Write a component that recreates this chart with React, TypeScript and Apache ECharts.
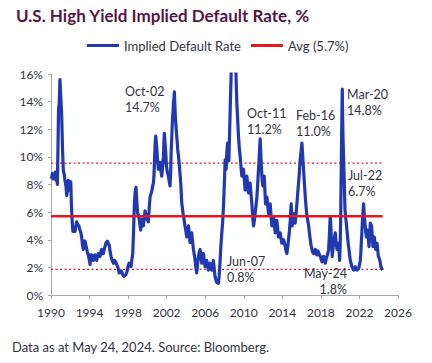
import React, { useEffect, useRef } from "react";
import * as echarts from "echarts";

const TITLE = "U.S. High Yield Implied Default Rate, %";
const FOOTER = "Data as at May 24, 2024. Source: Bloomberg.";
const SERIES_NAME = "Implied Default Rate";
const AVG_NAME = "Avg (5.7%)";
const AVG = 5.7;
const UPPER_BAND = 9.55;
const LOWER_BAND = 1.85;
const X_MIN = 1990;
const X_MAX = 2026;
const X_STEP = 4;
const Y_MIN = 0;
const Y_MAX = 16;
const Y_STEP = 2;

const years: number[] = [
  1990.0, 1990.07, 1990.15, 1990.22, 1990.3, 1990.38, 1990.45, 1990.52, 1990.6, 1990.66,
  1990.72, 1990.78, 1990.85, 1990.93, 1991.0, 1991.1, 1991.2, 1991.28, 1991.36, 1991.45,
  1991.55, 1991.63, 1991.72, 1991.8, 1991.9, 1991.97, 1992.05, 1992.12, 1992.2, 1992.27,
  1992.38, 1992.49, 1992.58, 1992.66, 1992.78, 1992.9, 1993.0, 1993.1, 1993.18, 1993.27,
  1993.35, 1993.45, 1993.53, 1993.65, 1993.77, 1993.87, 1993.96, 1994.05, 1994.14, 1994.22,
  1994.3, 1994.39, 1994.48, 1994.57, 1994.65, 1994.74, 1994.83, 1994.91, 1995.0, 1995.09,
  1995.18, 1995.26, 1995.35, 1995.43, 1995.52, 1995.6, 1995.72, 1995.85, 1995.95, 1996.05,
  1996.14, 1996.23, 1996.35, 1996.47, 1996.6, 1996.71, 1996.82, 1996.92, 1997.0, 1997.09,
  1997.2, 1997.33, 1997.45, 1997.58, 1997.67, 1997.75, 1997.84, 1997.92, 1998.0, 1998.1,
  1998.2, 1998.3, 1998.4, 1998.48, 1998.56, 1998.65, 1998.75, 1998.82, 1998.9, 1998.99,
  1999.07, 1999.15, 1999.3, 1999.41, 1999.5, 1999.59, 1999.68, 1999.76, 1999.85, 1999.93,
  2000.02, 2000.1, 2000.2, 2000.28, 2000.36, 2000.45, 2000.55, 2000.62, 2000.68, 2000.73,
  2000.8, 2000.87, 2000.93, 2001.0, 2001.07, 2001.14, 2001.22, 2001.32, 2001.4, 2001.49,
  2001.57, 2001.66, 2001.72, 2001.76, 2001.83, 2001.9, 2001.96, 2002.04, 2002.1, 2002.18,
  2002.27, 2002.35, 2002.42, 2002.46, 2002.54, 2002.6, 2002.66, 2002.7, 2002.76, 2002.8,
  2002.85, 2002.9, 2002.95, 2003.0, 2003.08, 2003.15, 2003.22, 2003.29, 2003.38, 2003.46,
  2003.52, 2003.56, 2003.65, 2003.74, 2003.82, 2003.9, 2004.0, 2004.08, 2004.17, 2004.26,
  2004.34, 2004.43, 2004.52, 2004.6, 2004.7, 2004.78, 2004.87, 2004.95, 2005.03, 2005.12,
  2005.2, 2005.3, 2005.38, 2005.47, 2005.55, 2005.64, 2005.72, 2005.81, 2005.9, 2005.99,
  2006.08, 2006.16, 2006.25, 2006.33, 2006.42, 2006.5, 2006.6, 2006.68, 2006.77, 2006.85,
  2006.93, 2007.02, 2007.1, 2007.2, 2007.3, 2007.37, 2007.45, 2007.54, 2007.62, 2007.72,
  2007.8, 2007.9, 2007.98, 2008.07, 2008.17, 2008.24, 2008.31, 2008.38, 2008.45, 2008.52,
  2008.59, 2008.67, 2008.76, 2008.85, 2008.95, 2009.05, 2009.12, 2009.18, 2009.23, 2009.28,
  2009.36, 2009.45, 2009.54, 2009.63, 2009.72, 2009.8, 2009.88, 2009.97, 2010.06, 2010.15,
  2010.24, 2010.32, 2010.4, 2010.49, 2010.58, 2010.66, 2010.75, 2010.84, 2010.92, 2011.01,
  2011.1, 2011.18, 2011.27, 2011.36, 2011.45, 2011.53, 2011.62, 2011.7, 2011.77, 2011.84,
  2011.91, 2011.98, 2012.05, 2012.12, 2012.19, 2012.26, 2012.33, 2012.4, 2012.48, 2012.57,
  2012.65, 2012.74, 2012.82, 2012.91, 2013.0, 2013.09, 2013.17, 2013.26, 2013.35, 2013.43,
  2013.52, 2013.6, 2013.69, 2013.78, 2013.86, 2013.95, 2014.04, 2014.12, 2014.21, 2014.3,
  2014.38, 2014.47, 2014.55, 2014.64, 2014.73, 2014.82, 2014.88, 2014.92, 2014.97, 2015.02,
  2015.09, 2015.16, 2015.25, 2015.33, 2015.42, 2015.51, 2015.6, 2015.68, 2015.77, 2015.85,
  2015.94, 2016.03, 2016.1, 2016.2, 2016.28, 2016.38, 2016.46, 2016.55, 2016.64, 2016.73,
  2016.81, 2016.9, 2016.98, 2017.07, 2017.15, 2017.24, 2017.33, 2017.42, 2017.5, 2017.59,
  2017.68, 2017.76, 2017.85, 2017.94, 2018.02, 2018.11, 2018.2, 2018.28, 2018.37, 2018.46,
  2018.54, 2018.63, 2018.72, 2018.8, 2018.88, 2018.97, 2019.03, 2019.08, 2019.13, 2019.18,
  2019.25, 2019.32, 2019.4, 2019.49, 2019.58, 2019.67, 2019.75, 2019.84, 2019.9, 2019.94,
  2020.0, 2020.05, 2020.1, 2020.15, 2020.19, 2020.22, 2020.25, 2020.29, 2020.34, 2020.39,
  2020.45, 2020.5, 2020.57, 2020.64, 2020.7, 2020.77, 2020.84, 2020.91, 2020.98, 2021.05,
  2021.13, 2021.22, 2021.31, 2021.4, 2021.48, 2021.57, 2021.65, 2021.74, 2021.83, 2021.92,
  2022.0, 2022.09, 2022.14, 2022.19, 2022.25, 2022.3, 2022.37, 2022.43, 2022.5, 2022.57,
  2022.64, 2022.71, 2022.78, 2022.85, 2022.92, 2022.99, 2023.06, 2023.13, 2023.2, 2023.26,
  2023.33, 2023.4, 2023.47, 2023.54, 2023.61, 2023.68, 2023.75, 2023.82, 2023.89, 2023.96,
  2024.03, 2024.1, 2024.17, 2024.23, 2024.32, 2024.4,
];

const rates: number[] = [
  8.6, 8.5, 8.8, 8.4, 8.7, 8.5, 8.9, 8.3, 8.6, 8.0,
  10.5, 13.4, 13.9, 15.6, 14.5, 13.2, 10.5, 9.0, 8.8, 8.3,
  7.9, 7.2, 7.6, 8.3, 7.6, 7.8, 8.2, 6.5, 5.3, 4.6,
  4.7, 4.6, 5.0, 5.3, 5.1, 5.0, 4.7, 4.5, 4.2, 3.6,
  3.3, 3.9, 3.9, 3.5, 3.1, 2.9, 2.6, 2.2, 2.9, 2.9,
  2.6, 2.5, 2.8, 2.9, 2.7, 2.5, 2.8, 3.0, 2.8, 2.8,
  3.1, 3.3, 3.0, 3.0, 3.3, 3.5, 3.8, 3.9, 3.7, 3.6,
  3.1, 2.8, 2.5, 2.3, 2.5, 2.4, 2.2, 2.05, 1.8, 1.6,
  1.75, 1.7, 1.45, 1.35, 1.4, 1.45, 1.6, 1.8, 2.1, 2.3,
  2.1, 2.05, 2.6, 3.0, 4.5, 6.6, 7.6, 7.8, 6.8, 5.9,
  5.8, 5.5, 4.7, 5.5, 5.2, 5.0, 5.6, 6.1, 5.8, 5.6,
  5.4, 5.3, 6.4, 7.1, 7.3, 7.5, 7.9, 8.1, 8.6, 9.6,
  10.9, 11.5, 11.0, 10.4, 9.6, 9.1, 9.3, 9.6, 9.0, 8.6,
  9.2, 10.0, 11.2, 11.7, 11.0, 10.4, 9.5, 9.0, 9.0, 8.6,
  8.2, 7.9, 9.0, 10.3, 11.6, 12.7, 13.3, 13.9, 14.3, 14.7,
  13.8, 12.9, 12.4, 11.9, 11.2, 10.5, 10.1, 9.6, 8.8, 8.1,
  7.3, 6.7, 6.2, 5.7, 5.4, 5.0, 4.6, 4.2, 4.6, 5.0,
  4.4, 3.8, 4.3, 4.5, 3.8, 3.3, 2.9, 2.5, 2.0, 1.6,
  2.2, 2.8, 3.1, 3.3, 2.8, 2.3, 2.7, 3.0, 2.5, 2.05,
  2.3, 2.5, 2.1, 1.8, 2.1, 2.3, 2.0, 1.8, 2.1, 2.5,
  1.9, 1.35, 1.1, 0.9, 1.0, 0.85, 1.4, 2.4, 3.5, 4.5,
  5.2, 6.5, 8.0, 9.8, 9.1, 10.2, 11.0, 10.4, 9.7, 11.5,
  13.4, 15.5, 18.5, 22.0, 23.0, 21.0, 18.0, 16.3, 15.0, 13.9,
  12.8, 11.5, 10.6, 10.0, 9.2, 8.6, 9.0, 9.1, 8.3, 7.6,
  8.1, 8.6, 8.0, 7.4, 7.6, 8.1, 7.3, 6.6, 5.7, 5.0,
  5.4, 5.9, 6.5, 7.1, 8.1, 9.1, 10.3, 11.3, 10.2, 9.1,
  8.3, 7.9, 8.2, 8.6, 7.6, 6.6, 6.9, 7.1, 6.5, 5.9,
  6.2, 6.6, 5.8, 5.0, 5.3, 5.7, 5.1, 4.5, 4.9, 5.4,
  4.8, 4.2, 4.4, 4.5, 4.1, 3.75, 3.9, 4.0, 3.8, 3.5,
  3.2, 3.0, 3.4, 4.0, 4.6, 5.4, 6.2, 6.6, 5.8, 5.0,
  5.4, 5.9, 5.5, 5.2, 5.8, 6.6, 7.4, 8.1, 8.9, 9.8,
  10.4, 11.0, 10.2, 9.1, 8.2, 7.1, 6.4, 5.7, 5.4, 5.0,
  4.5, 4.0, 3.6, 3.3, 3.1, 3.0, 3.2, 3.3, 3.0, 2.9,
  3.2, 3.1, 2.9, 2.8, 2.6, 2.4, 2.6, 2.8, 2.5, 2.3,
  2.6, 2.8, 3.0, 3.3, 4.3, 5.7, 5.0, 4.2, 3.4, 2.8,
  3.3, 3.75, 4.1, 4.5, 3.8, 3.3, 3.5, 3.75, 3.0, 2.5,
  3.5, 5.4, 8.5, 11.5, 13.5, 14.9, 13.2, 11.5, 10.2, 9.1,
  7.5, 6.2, 5.6, 5.2, 4.7, 4.2, 3.7, 3.3, 2.9, 2.5,
  2.3, 2.05, 1.9, 1.8, 1.9, 2.05, 1.9, 1.8, 1.9, 1.9,
  2.2, 2.5, 3.0, 3.75, 4.5, 5.2, 6.0, 6.6, 5.8, 5.2,
  4.7, 4.2, 4.5, 4.7, 4.1, 3.5, 4.3, 5.2, 5.1, 5.0,
  4.2, 3.5, 3.9, 4.2, 3.7, 3.3, 3.5, 3.75, 3.3, 2.8,
  2.7, 2.54, 2.3, 2.05, 1.9, 1.8,
];

const annotationLabels: string[] = [
  "Oct-02\n14.7%",
  "Jun-07\n0.8%",
  "Oct-11\n11.2%",
  "Feb-16\n11.0%",
  "Mar-20\n14.8%",
  "Jul-22\n6.7%",
  "May-24\n1.8%",
];

const FONT = "Lato, 'Open Sans', 'Noto Sans', sans-serif";
const BLUE = "#2038b0";
const RED = "#e8161e";
const TEXT = "#333340";
const AXIS = "#a8a8a8";

export default function App() {
  const ref = useRef<HTMLDivElement>(null);

  useEffect(() => {
    if (!ref.current) return;
    const chart = echarts.init(ref.current, undefined, { renderer: "svg" });

    const lineData = years.map((y, i) => [y, rates[i]]);
    const xStart = years[0];
    const xEnd = years[years.length - 1];

    const annotationPos: { x: number; y: number; align: string }[] = [
      { x: 125, y: 83, align: "left" },
      { x: 227, y: 253, align: "left" },
      { x: 247, y: 105, align: "left" },
      { x: 296, y: 107, align: "left" },
      { x: 347, y: 86, align: "left" },
      { x: 348, y: 167, align: "left" },
      { x: 347, y: 265, align: "right" },
    ];

    const annotationGraphics = annotationLabels.map((t, i) => ({
      type: "text",
      x: annotationPos[i].x,
      y: annotationPos[i].y,
      silent: true,
      z: 100,
      style: {
        text: t,
        fill: TEXT,
        fontFamily: FONT,
        fontSize: 12.5,
        lineHeight: 16.5,
        align: annotationPos[i].align,
        verticalAlign: "top",
      },
    }));

    chart.setOption({
      animation: false,
      backgroundColor: "#ffffff",
      title: {
        text: TITLE,
        left: 16,
        top: 7,
        padding: 0,
        textStyle: {
          fontFamily: FONT,
          fontSize: 17,
          fontWeight: "bold",
          color: "#561643",
        },
      },
      legend: {
        left: 87,
        top: 39,
        padding: 0,
        itemGap: 10,
        itemWidth: 32,
        itemHeight: 3,
        icon: "rect",
        data: [SERIES_NAME, AVG_NAME],
        textStyle: { fontFamily: FONT, fontSize: 13, color: TEXT },
      },
      grid: { left: 51, right: 34, top: 74, bottom: 68 },
      xAxis: {
        type: "value",
        min: X_MIN,
        max: X_MAX,
        interval: X_STEP,
        axisLine: { lineStyle: { color: AXIS, width: 1 } },
        axisTick: { show: true, length: 4, lineStyle: { color: AXIS } },
        splitLine: { show: false },
        axisLabel: {
          color: TEXT,
          fontFamily: FONT,
          fontSize: 12,
          margin: 11,
          formatter: (v: number) => String(v),
        },
      },
      yAxis: {
        type: "value",
        min: Y_MIN,
        max: Y_MAX,
        interval: Y_STEP,
        axisLine: { show: true, lineStyle: { color: AXIS, width: 1 } },
        axisTick: { show: true, length: 3, lineStyle: { color: AXIS } },
        splitLine: { show: false },
        axisLabel: {
          color: TEXT,
          fontFamily: FONT,
          fontSize: 12,
          margin: 8,
          formatter: "{value}%",
        },
      },
      series: [
        {
          name: "upper",
          type: "line",
          data: [[xStart, UPPER_BAND], [xEnd, UPPER_BAND]],
          showSymbol: false,
          symbol: "none",
          silent: true,
          lineStyle: { color: RED, width: 1.3, type: [2, 2.5] },
          z: 1,
        },
        {
          name: "lower",
          type: "line",
          data: [[xStart, LOWER_BAND], [xEnd, LOWER_BAND]],
          showSymbol: false,
          symbol: "none",
          silent: true,
          lineStyle: { color: RED, width: 1.3, type: [2, 2.5] },
          z: 1,
        },
        {
          name: AVG_NAME,
          type: "line",
          data: [[X_MIN, AVG], [xEnd, AVG]],
          showSymbol: false,
          symbol: "none",
          color: RED,
          lineStyle: { color: RED, width: 2.5 },
          z: 3,
        },
        {
          name: SERIES_NAME,
          type: "line",
          data: lineData,
          showSymbol: false,
          symbol: "none",
          color: BLUE,
          lineStyle: { color: BLUE, width: 3.2, join: "round" },
          clip: true,
          z: 2,
        },
      ],
      graphic: [
        ...annotationGraphics,
        {
          type: "text",
          x: 12,
          y: 340,
          silent: true,
          style: {
            text: FOOTER,
            fill: TEXT,
            fontFamily: FONT,
            fontSize: 13,
            verticalAlign: "top",
          },
        },
      ],
    });

    return () => chart.dispose();
  }, []);

  return (
    <div
      ref={ref}
      style={{ position: "absolute", left: 0, top: 0, width: 432, height: 363 }}
    />
  );
}
